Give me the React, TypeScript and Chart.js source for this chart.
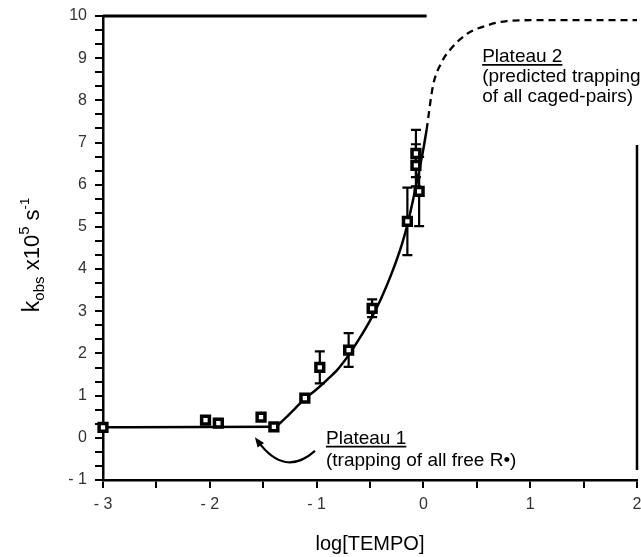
import React, { useEffect, useRef } from "react";
import { Chart, registerables } from "chart.js";

Chart.register(...registerables);

// ---- data ----
const xTickLabels = [-3, -2, -1, 0, 1, 2];
const yTickLabels = [-1, 0, 1, 2, 3, 4, 5, 6, 7, 8, 9, 10];
const xMinorPerMajor = 2;
const yMinorPerMajor = 3;

const pointX = [-3, -2.04, -1.92, -1.52, -1.4, -1.11, -0.97, -0.7, -0.48, -0.15, -0.04, -0.07, -0.07];
const pointY = [0.25, 0.42, 0.35, 0.49, 0.26, 0.94, 1.67, 2.08, 3.07, 5.13, 5.84, 6.46, 6.74];
const pointErr = [0, 0, 0, 0, 0, 0, 0.38, 0.4, 0.21, 0.8, 0.82, 0.5, 0.56];

const fitX = [-3, -1.4, -1.3, -1.2, -1.1, -1.0, -0.9, -0.8, -0.7, -0.6, -0.5, -0.4, -0.3, -0.2, -0.15, -0.1, -0.05, 0.0, 0.03];
const fitY = [0.25, 0.26, 0.45, 0.7, 0.95, 1.15, 1.38, 1.63, 1.96, 2.35, 2.78, 3.28, 3.88, 4.6, 5.05, 5.6, 6.2, 6.85, 7.3];

const predX = [0.03, 0.09, 0.17, 0.25, 0.41, 0.6, 0.78, 1.0, 2.0];
const predY = [7.3, 8.35, 8.9, 9.2, 9.58, 9.78, 9.88, 9.9, 9.9];

const topLineX = [-3, 0.03];
const topLineY = [10, 10];
const rightLineX = [2, 2];
const rightLineY = [6.94, -0.76];

const plateau2Lines = ["Plateau 2", "(predicted trapping", "of all caged-pairs)"];
const plateau1Lines = ["Plateau 1", "(trapping of all free R\u2022)"];

const FONT = "'Liberation Sans', Arial, Helvetica, sans-serif";

const toPts = (xs: number[], ys: number[]) => xs.map((x, i) => ({ x, y: ys[i] }));
const fmt = (v: number) => (v < 0 ? "- " + Math.abs(v) : String(v));

export default function App() {
  const ref = useRef<HTMLCanvasElement | null>(null);

  useEffect(() => {
    if (!ref.current) return;

    const overlay = {
      id: "overlay",
      beforeDatasetsDraw(chart: any) {
        const ctx = chart.ctx;
        const xs = chart.scales.x;
        const ys = chart.scales.y;
        ctx.save();
        ctx.strokeStyle = "#000";
        ctx.lineWidth = 2.2;
        pointX.forEach((x, i) => {
          const e = pointErr[i];
          if (!e) return;
          const px = xs.getPixelForValue(x);
          const top = ys.getPixelForValue(pointY[i] + e);
          const bot = ys.getPixelForValue(pointY[i] - e);
          ctx.beginPath();
          ctx.moveTo(px, top);
          ctx.lineTo(px, bot);
          ctx.moveTo(px - 5, top);
          ctx.lineTo(px + 5, top);
          ctx.moveTo(px - 5, bot);
          ctx.lineTo(px + 5, bot);
          ctx.stroke();
        });
        ctx.restore();
      },
      afterDraw(chart: any) {
        const ctx = chart.ctx;
        const xs = chart.scales.x;
        const ys = chart.scales.y;
        const area = chart.chartArea;
        ctx.save();
        ctx.fillStyle = "#000";
        ctx.strokeStyle = "#000";
        ctx.textBaseline = "alphabetic";

        // x title
        ctx.font = `20px ${FONT}`;
        ctx.textAlign = "center";
        ctx.fillText("log[TEMPO]", (area.left + area.right) / 2, 550);

        // y title
        const pieces = [
          { t: "k", s: 23, dy: 0 },
          { t: "obs", s: 15, dy: 5 },
          { t: " x10", s: 22, dy: 0 },
          { t: "5", s: 15, dy: -10 },
          { t: " s", s: 22, dy: 0 },
          { t: "-1", s: 13, dy: -10 },
        ];
        ctx.textAlign = "left";
        let total = 0;
        pieces.forEach((p) => {
          ctx.font = `${p.s}px ${FONT}`;
          total += ctx.measureText(p.t).width;
        });
        ctx.save();
        ctx.translate(31, 255);
        ctx.rotate(-Math.PI / 2);
        let cx = -total / 2;
        pieces.forEach((p) => {
          ctx.font = `${p.s}px ${FONT}`;
          ctx.fillText(p.t, cx, 8 + p.dy);
          cx += ctx.measureText(p.t).width;
        });
        ctx.restore();

        // annotations (x, baseline y in data units)
        const note = (x: number, y: number, lines: string[], gap: number) => {
          const px = xs.getPixelForValue(x);
          const py = ys.getPixelForValue(y);
          ctx.font = `19px ${FONT}`;
          ctx.textAlign = "left";
          lines.forEach((l, i) => {
            const by = py + i * gap;
            ctx.fillText(l, px, by);
            if (i === 0) {
              const w = ctx.measureText(l).width;
              ctx.lineWidth = 1.6;
              ctx.beginPath();
              ctx.moveTo(px, by + 2.5);
              ctx.lineTo(px + w, by + 2.5);
              ctx.stroke();
            }
          });
        };
        note(0.55, 8.9, plateau2Lines, 20);
        note(-0.912, -0.15, plateau1Lines, 22);

        // curved arrow
        const sx = xs.getPixelForValue(-1.015), sy = ys.getPixelForValue(-0.31);
        const cpx = xs.getPixelForValue(-1.3), cpy = ys.getPixelForValue(-0.95);
        const ex = xs.getPixelForValue(-1.55), ey = ys.getPixelForValue(-0.08);
        ctx.lineWidth = 2.2;
        ctx.beginPath();
        ctx.moveTo(sx, sy);
        ctx.quadraticCurveTo(cpx, cpy, ex, ey);
        ctx.stroke();
        const dx = ex - cpx, dy = ey - cpy;
        const len = Math.hypot(dx, dy);
        const ux = dx / len, uy = dy / len;
        const tipx = ex + ux * 5, tipy = ey + uy * 5;
        ctx.beginPath();
        ctx.moveTo(tipx, tipy);
        ctx.lineTo(tipx - ux * 10 - uy * 4, tipy - uy * 10 + ux * 4);
        ctx.lineTo(tipx - ux * 10 + uy * 4, tipy - uy * 10 - ux * 4);
        ctx.closePath();
        ctx.fill();

        ctx.restore();
      },
    };

    const lineDs = (xs: number[], ys: number[], extra: any = {}) => ({
      data: toPts(xs, ys),
      showLine: true,
      borderColor: "#000",
      borderWidth: 2.5,
      pointRadius: 0,
      fill: false,
      clip: 10,
      order: 2,
      ...extra,
    });

    const chart = new Chart(ref.current, {
      type: "scatter",
      data: {
        datasets: [
          lineDs(fitX, fitY, { cubicInterpolationMode: "monotone" }),
          lineDs(predX, predY, { cubicInterpolationMode: "monotone", borderDash: [7, 5], borderWidth: 2.3 }),
          lineDs(topLineX, topLineY, { borderWidth: 3 }),
          lineDs(rightLineX, rightLineY),
          {
            data: toPts(pointX, pointY),
            showLine: false,
            pointStyle: "rect",
            pointRadius: 5.5,
            borderWidth: 3.5,
            borderColor: "#000",
            backgroundColor: "#fff",
            clip: 10,
            order: 0,
          },
        ],
      } as any,
      options: {
        animation: false,
        responsive: false,
        events: [],
        layout: { padding: { top: 16, right: 0, left: 0, bottom: 0 } },
        plugins: { legend: { display: false }, tooltip: { enabled: false } },
        scales: {
          x: {
            type: "linear",
            min: xTickLabels[0],
            max: xTickLabels[xTickLabels.length - 1],
            afterBuildTicks: (s: any) => {
              const t: any[] = [];
              for (let i = 0; i < xTickLabels.length; i++) {
                for (let j = 0; j < xMinorPerMajor; j++) {
                  if (i === xTickLabels.length - 1 && j > 0) break;
                  t.push({ value: xTickLabels[i] + j / xMinorPerMajor });
                }
              }
              s.ticks = t;
            },
            afterFit: (s: any) => {
              s.height = 77;
              s.paddingLeft = 0;
              s.paddingRight = 0;
            },
            ticks: {
              autoSkip: false,
              maxRotation: 0,
              padding: 7,
              color: "#333",
              font: { size: 16, family: FONT },
              callback: (v: any) => {
                const n = Number(v);
                return Math.abs(n - Math.round(n)) < 1e-6 ? fmt(Math.round(n)) : "";
              },
            },
            grid: {
              display: true,
              drawOnChartArea: false,
              drawTicks: true,
              tickLength: 8,
              color: "#000",
              lineWidth: 2,
            },
            border: { display: true, color: "#000", width: 2.5 },
          },
          y: {
            type: "linear",
            min: yTickLabels[0],
            max: yTickLabels[yTickLabels.length - 1],
            afterBuildTicks: (s: any) => {
              const t: any[] = [];
              for (let i = 0; i < yTickLabels.length; i++) {
                for (let j = 0; j < yMinorPerMajor; j++) {
                  if (i === yTickLabels.length - 1 && j > 0) break;
                  t.push({ value: yTickLabels[i] + j / yMinorPerMajor });
                }
              }
              s.ticks = t;
            },
            afterFit: (s: any) => {
              s.width = 103;
              s.paddingTop = 0;
              s.paddingBottom = 0;
            },
            ticks: {
              autoSkip: false,
              padding: 8,
              color: "#333",
              font: { size: 16, family: FONT },
              callback: (v: any) => {
                const n = Number(v);
                return Math.abs(n - Math.round(n)) < 1e-6 ? fmt(Math.round(n)) : "";
              },
            },
            grid: {
              display: true,
              drawOnChartArea: false,
              drawTicks: true,
              tickLength: 8,
              color: "#000",
              lineWidth: 2,
            },
            border: { display: true, color: "#000", width: 2.5 },
          },
        },
      } as any,
      plugins: [overlay],
    });

    return () => chart.destroy();
  }, []);

  return (
    <div style={{ position: "fixed", left: 0, top: 0, width: 641, height: 557, overflow: "hidden", background: "#fff" }}>
      <canvas ref={ref} width={646} height={557} style={{ display: "block" }} />
    </div>
  );
}
